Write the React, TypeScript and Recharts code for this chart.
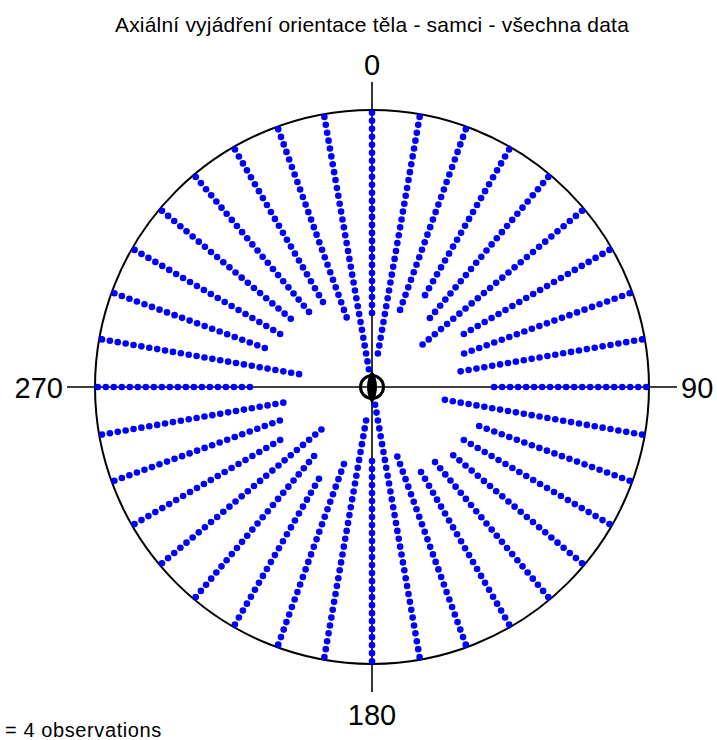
import React from "react";
import {
  ScatterChart,
  Scatter,
  XAxis,
  YAxis,
  ReferenceLine,
  ReferenceDot,
} from "recharts";

// directions (deg) and observation counts, one dot = 4 observations (axial data)
const directions = [
  0, 10, 20, 30, 40, 50, 60, 70, 80, 90, 100, 110, 120, 130, 140, 150, 160, 170,
  180, 190, 200, 210, 220, 230, 240, 250, 260, 270, 280, 290, 300, 310, 320, 330, 340, 350,
];
const observations = [
  104, 124, 100, 88, 96, 108, 88, 92, 96, 80, 104, 84, 88, 88, 92, 92, 104, 132,
  104, 124, 100, 88, 96, 108, 88, 92, 96, 80, 104, 84, 88, 88, 92, 92, 104, 132,
];
const OBS_PER_DOT = 4;
const meanAxis = 0;

const cardinalLabels = ["0", "90", "180", "270"];
const title = "Axiální vyjádření orientace těla - samci - všechna data";
const legendText = `= ${OBS_PER_DOT} observations`;

// geometry in "dot steps"
const LIMIT = 38.1; // axis line half length
const RING = 34.6; // outer circle
const FIRST = 34.25; // outermost dot centre

const W = 717;
const H = 740;
const PLOT_LEFT = 67;
const PLOT_TOP = 82;
const PLOT_SIZE = 610;
const PX = PLOT_SIZE / (2 * LIMIT);

const FONT = "'Liberation Sans', Arial, sans-serif";

const dots = directions.flatMap((deg, i) => {
  const n = Math.round(observations[i] / OBS_PER_DOT);
  const a = (deg * Math.PI) / 180;
  return Array.from({ length: n }, (_, k) => {
    const r = FIRST - k;
    return { x: r * Math.sin(a), y: r * Math.cos(a), deg };
  });
});

const DotShape = (props: any) => (
  <circle cx={props.cx} cy={props.cy} r={3.3} fill="#0000ff" />
);

const MeanShape = (props: any) => {
  const { cx, cy } = props;
  const a = (meanAxis * Math.PI) / 180;
  const len = 17;
  const w = 5;
  const dx = Math.sin(a);
  const dy = -Math.cos(a);
  const px = -dy;
  const py = dx;
  const d = `M ${cx + dx * len} ${cy + dy * len}
    Q ${cx + px * w * 2} ${cy + py * w * 2} ${cx - dx * len} ${cy - dy * len}
    Q ${cx - px * w * 2} ${cy - py * w * 2} ${cx + dx * len} ${cy + dy * len} Z`;
  return (
    <g>
      <circle cx={cx} cy={cy} r={11.5} fill="none" stroke="#000" strokeWidth={3} />
      <path d={d} fill="#000" />
    </g>
  );
};

export default function App() {
  const cx = PLOT_LEFT + PLOT_SIZE / 2;
  const cy = PLOT_TOP + PLOT_SIZE / 2;
  return (
    <div style={{ position: "absolute", left: 0, top: 0, width: W, height: H, background: "#fff" }}>
      <ScatterChart
        width={W}
        height={H}
        margin={{
          top: PLOT_TOP,
          left: PLOT_LEFT,
          right: W - PLOT_LEFT - PLOT_SIZE,
          bottom: H - PLOT_TOP - PLOT_SIZE,
        }}
      >
        <XAxis type="number" dataKey="x" domain={[-LIMIT, LIMIT]} hide allowDataOverflow />
        <YAxis type="number" dataKey="y" domain={[-LIMIT, LIMIT]} hide allowDataOverflow />
        <ReferenceLine x={0} stroke="#000" strokeWidth={1.6} />
        <ReferenceLine y={0} stroke="#000" strokeWidth={1.6} />
        <ReferenceDot x={0} y={0} r={RING * PX} fill="none" stroke="#000" strokeWidth={2} />
        <Scatter data={dots} fill="#0000ff" shape={DotShape} isAnimationActive={false} />
        <ReferenceDot x={0} y={0} r={12} shape={MeanShape} />
      </ScatterChart>
      <svg
        width={W}
        height={H}
        style={{ position: "absolute", left: 0, top: 0, pointerEvents: "none" }}
        fontFamily={FONT}
        fill="#000"
      >
        <text x={cx} y={32} fontSize={21} letterSpacing={0.2} textAnchor="middle">
          {title}
        </text>
        <text x={cx} y={75} fontSize={29} textAnchor="middle">
          {cardinalLabels[0]}
        </text>
        <text x={PLOT_LEFT + PLOT_SIZE + 4} y={cy + 11} fontSize={29} textAnchor="start">
          {cardinalLabels[1]}
        </text>
        <text x={cx} y={725} fontSize={29} textAnchor="middle">
          {cardinalLabels[2]}
        </text>
        <text x={PLOT_LEFT - 4} y={cy + 11} fontSize={29} textAnchor="end">
          {cardinalLabels[3]}
        </text>
        <text x={5} y={737} fontSize={20} letterSpacing={0.6}>
          {legendText}
        </text>
      </svg>
    </div>
  );
}
